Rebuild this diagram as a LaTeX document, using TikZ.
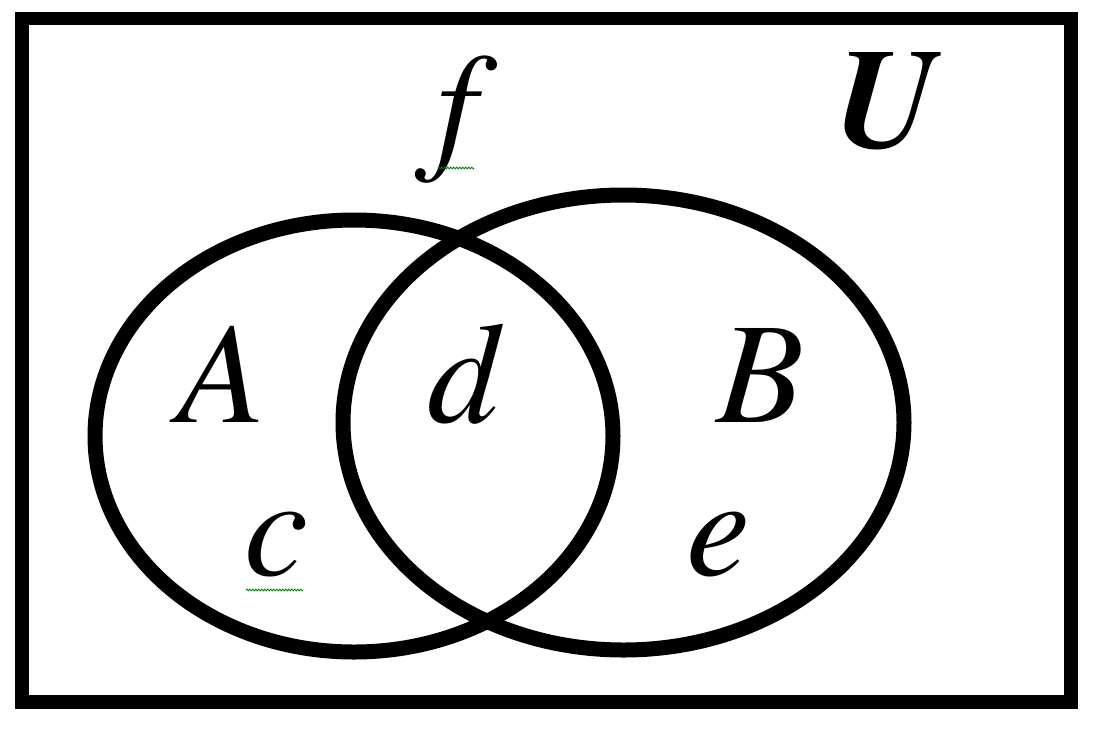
\documentclass[tikz,border=0pt]{standalone}
\usepackage{fontspec}
\setmainfont{texgyretermes}[
  Extension = .otf,
  UprightFont = *-regular,
  ItalicFont = *-italic,
  BoldFont = *-bold,
  BoldItalicFont = *-bolditalic]
\usetikzlibrary{decorations.pathmorphing}
\tikzset{
  setline/.style={line width=15pt},
  framebox/.style={line width=13.5pt},
  lbl/.style={anchor=base, inner sep=0pt, font=\fontsize{144}{150}\selectfont\itshape},
  squig/.style={draw=green!50!black, line width=0.8pt, decorate, decoration={zigzag, amplitude=0.9pt, segment length=3pt}}
}
\begin{document}
\begin{tikzpicture}[x=1pt,y=-1pt]
\useasboundingbox (0,0) rectangle (1113,739);
\draw[framebox] (22,18.5) rectangle (1071,702);
\draw[setline] (354,436) ellipse [x radius=259, y radius=216];
\draw[setline] (623.5,422.5) ellipse [x radius=280.5, y radius=227.5];
\node[lbl] (f) at (457,153) {f};
\node[lbl, font=\fontsize{142}{150}\selectfont\bfseries\itshape] (U) at (887,147) {U};
\node[lbl] (A) at (221,422) {A};
\node[lbl] (d) at (463,422) {d};
\node[lbl] (B) at (760,422) {B};
\node[lbl] (c) at (276,575) {c};
\node[lbl] (e) at (718,575) {e};
\coordinate (fs1) at (438,168);
\coordinate (fs2) at (474,168);
\coordinate (cs1) at (246,590);
\coordinate (cs2) at (303,590);
\draw[squig] (fs1) -- (fs2);
\draw[squig] (cs1) -- (cs2);
\end{tikzpicture}
\end{document}
